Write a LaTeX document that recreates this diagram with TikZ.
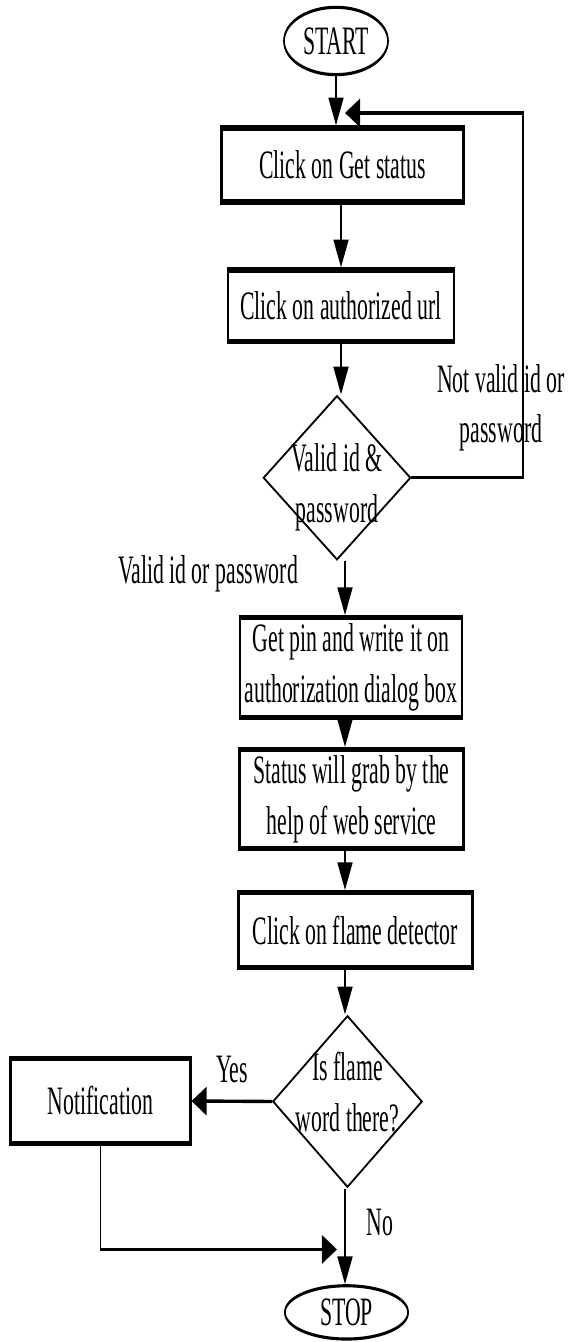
\documentclass[tikz,border=0pt]{standalone}
\usepackage{fontspec}
\setmainfont{Liberation Serif}
\usepackage{tikz}
\usetikzlibrary{shapes.geometric}
\usetikzlibrary{arrows.meta}

\begin{document}
\begin{tikzpicture}[x=0.025cm, y=-0.025cm,
  txt/.style={font=\fontsize{15.5pt}{19.5pt}\selectfont, align=center},
  stepbox/.style={draw, line width=2pt, rectangle, inner sep=0pt, txt},
  endbox/.style={draw, line width=1.2pt, ellipse, inner sep=0pt, txt},
  testbox/.style={draw, line width=0.9pt, diamond, inner sep=0pt},
  arr/.style={line width=1.3pt, -{Triangle[length=0.375cm, width=0.375cm]}},
  lin/.style={line width=1.3pt}]
\useasboundingbox (0,0) rectangle (568,1342);
\begin{scope}[transform canvas={yscale=1.85}, y=-0.01351cm]
\coordinate (axis) at (345,0);
\coordinate (loopx) at (523,113);
\coordinate (loopin) at (345,113);
\coordinate (join) at (337,1250);

\node[endbox, minimum width=2.6cm, minimum height=0.91cm] (start) at (336,41) {START};
\node[stepbox, minimum width=6.03cm, minimum height=1.0cm] (getstat) at (342.5,165) {Click on Get status};
\node[stepbox, minimum width=5.65cm, minimum height=0.97cm] (authurl) at (341,306) {Click on authorized url};
\node[testbox, minimum width=3.68cm, minimum height=2.22cm,
  label={[txt, yshift=-0.13cm]center:{Valid id \&\\password}}] (valid) at (337,478) {};
\node[stepbox, minimum width=5.55cm, minimum height=1.35cm] (getpin) at (351,668) {Get pin and write it on\\authorization dialog box};
\node[stepbox, minimum width=5.58cm, minimum height=1.34cm] (grab) at (351.5,799.5) {Status will grab by the\\help of web service};
\node[stepbox, minimum width=5.83cm, minimum height=1.01cm] (flame) at (355.5,930.5) {Click on flame detector};
\node[testbox, minimum width=3.73cm, minimum height=2.32cm,
  label={[txt, yshift=0.13cm]center:{Is flame\\word there?}}] (isflame) at (347.5,1102) {};
\node[stepbox, minimum width=4.48cm, minimum height=1.15cm] (notif) at (100.5,1101.5) {Notification};
\node[endbox, minimum width=3.08cm, minimum height=0.72cm] (stop) at (346.5,1313) {STOP};

\node[txt] (notvalid) at (501,408) {Not valid id or\\password};
\node[txt] (isvalid) at (208,574) {Valid id or password};
\node[txt] (yes) at (232,1070) {Yes};
\node[txt] (no) at (380,1223) {No};

\draw[arr] (start.south) -- (start.south |- getstat.north);
\draw[arr] (authurl.north |- getstat.south) -- (authurl.north);
\draw[arr] (authurl.south) -- (authurl.south |- valid.north);
\draw[arr] (valid.south -| axis) -- (getpin.north -| axis);
\draw[arr] (getpin.south -| axis) -- (grab.north -| axis);
\draw[arr] (grab.south -| axis) -- (flame.north -| axis);
\draw[arr] (flame.south -| axis) -- (isflame.north -| axis);
\draw[arr] (isflame.south -| axis) -- (stop.north -| axis);
\draw[arr] (valid.east) -| (loopx) -- (loopin);
\draw[arr] (isflame.west) -- (notif.east);
\draw[arr] (notif.south) |- (join);
\end{scope}
\end{tikzpicture}
\end{document}
